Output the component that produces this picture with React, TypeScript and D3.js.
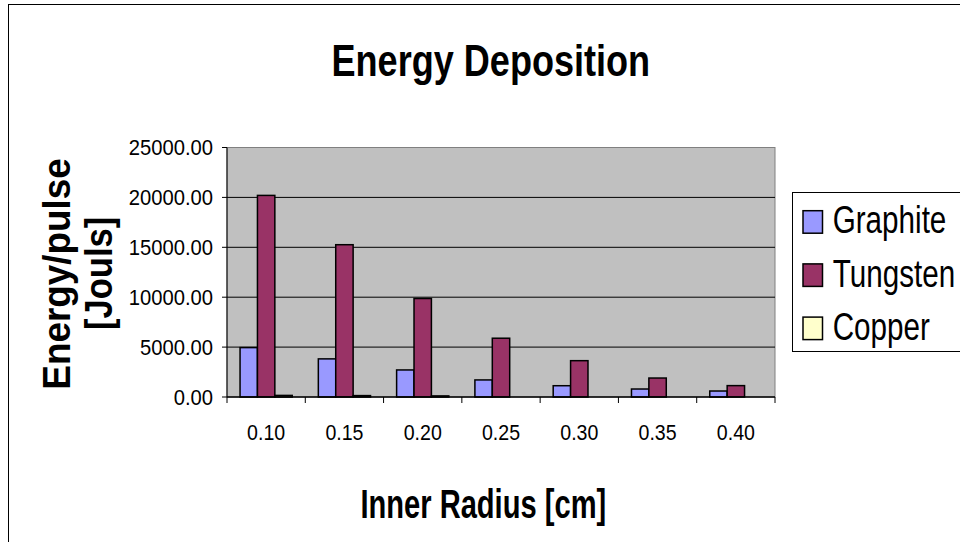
import React from "react";
import * as d3 from "d3";

// Inner radius categories and energy per pulse for each material
const categories = ["0.10", "0.15", "0.20", "0.25", "0.30", "0.35", "0.40"];
const graphite = [4950, 3820, 2710, 1710, 1130, 800, 600];
const tungsten = [20200, 15260, 9870, 5890, 3640, 1900, 1140];
const copper = [160, 140, 110, 0, 0, 0, 0];
const seriesNames = ["Graphite", "Tungsten", "Copper"];
const seriesColors = ["#9999FF", "#993366", "#FFFFCC"];
const yTicks = [0, 5000, 10000, 15000, 20000, 25000];

const FONT = "'Liberation Sans', Arial, Helvetica, sans-serif";

type TextProps = {
  x: number;
  y: number;
  size: number;
  sx?: number;
  rotate?: number;
  anchor?: "start" | "middle" | "end";
  bold?: boolean;
  children: React.ReactNode;
};

// Text with an optional horizontal squeeze along its own direction
function CText({ x, y, size, sx = 1, rotate = 0, anchor = "middle", bold = false, children }: TextProps) {
  return (
    <text
      transform={`translate(${x},${y}) rotate(${rotate}) scale(${sx},1)`}
      textAnchor={anchor}
      fontSize={size}
      fontWeight={bold ? "bold" : "normal"}
      fontFamily={FONT}
      fill="#000"
    >
      {children}
    </text>
  );
}

export default function App() {
  const W = 960;
  const H = 542;
  const plot = { left: 227, right: 775, top: 147.5, bottom: 397 };

  const series = [graphite, tungsten, copper];

  const x = d3
    .scaleBand<string>()
    .domain(categories)
    .range([plot.left, plot.right])
    .paddingInner(0)
    .paddingOuter(0);

  const y = d3.scaleLinear().domain([0, 25000]).range([plot.bottom, plot.top]);

  const band = x.bandwidth();
  const barW = band / 4.5; // gap width 150%
  const groupOffset = (band - 3 * barW) / 2;
  const fmt = d3.format(".2f");

  return (
    <svg
      width={W}
      height={H}
      style={{ position: "absolute", left: 0, top: 0, background: "#fff" }}
    >
      {/* chart frame */}
      <rect x={8.5} y={4.5} width={1000} height={600} fill="#fff" stroke="#000" strokeWidth={1} />

      {/* title */}
      <CText x={490.8} y={76} size={44} sx={0.82} bold>
        Energy Deposition
      </CText>

      {/* plot background */}
      <rect
        x={plot.left}
        y={plot.top}
        width={plot.right - plot.left}
        height={plot.bottom - plot.top}
        fill="#C0C0C0"
        stroke="#808080"
        strokeWidth={1}
      />

      {/* gridlines */}
      {yTicks.slice(1, -1).map((t) => (
        <line
          key={`g${t}`}
          x1={plot.left}
          x2={plot.right}
          y1={y(t)}
          y2={y(t)}
          stroke="#000"
          strokeWidth={1}
        />
      ))}

      {/* bars */}
      {series.map((vals, si) =>
        vals.map((v, ci) => {
          const bx = (x(categories[ci]) ?? 0) + groupOffset + si * barW;
          const by = y(v);
          const bh = plot.bottom - by;
          if (bh <= 0) return null;
          return (
            <rect
              key={`b${si}-${ci}`}
              x={bx}
              y={by}
              width={barW}
              height={bh}
              fill={seriesColors[si]}
              stroke="#000"
              strokeWidth={1.5}
            />
          );
        })
      )}

      {/* y axis */}
      <line x1={plot.left} x2={plot.left} y1={plot.top} y2={plot.bottom} stroke="#000" strokeWidth={1} />
      {yTicks.map((t) => (
        <g key={`yt${t}`}>
          <line x1={plot.left - 5} x2={plot.left} y1={y(t)} y2={y(t)} stroke="#000" strokeWidth={1} />
          <CText x={213} y={y(t) + 7.6} size={21.5} sx={0.94} anchor="end">
            {fmt(t)}
          </CText>
        </g>
      ))}

      {/* x axis */}
      <line x1={plot.left} x2={plot.right} y1={plot.bottom} y2={plot.bottom} stroke="#000" strokeWidth={1.5} />
      {categories.map((c, i) => (
        <line
          key={`xt${c}`}
          x1={plot.left + i * band}
          x2={plot.left + i * band}
          y1={plot.bottom}
          y2={plot.bottom + 6}
          stroke="#000"
          strokeWidth={1}
        />
      ))}
      <line x1={plot.right} x2={plot.right} y1={plot.bottom} y2={plot.bottom + 6} stroke="#000" strokeWidth={1} />
      {categories.map((c) => (
        <CText key={`xl${c}`} x={(x(c) ?? 0) + band / 2} y={440} size={22} sx={0.89}>
          {c}
        </CText>
      ))}

      {/* axis titles */}
      <CText x={483.3} y={518} size={41} sx={0.71} bold>
        Inner Radius [cm]
      </CText>
      <CText x={69.5} y={274} size={38} sx={0.97} rotate={-90} bold>
        Energy/pulse
      </CText>
      <CText x={112} y={273.4} size={38} sx={0.91} rotate={-90} bold>
        [Jouls]
      </CText>

      {/* legend */}
      <rect x={792.5} y={192.5} width={300} height={159} fill="#fff" stroke="#000" strokeWidth={1} />
      {seriesNames.map((name, i) => {
        const top = 210.7 + i * 53.2;
        return (
          <g key={`lg${name}`}>
            <rect x={803} y={top} width={19.5} height={22.5} fill={seriesColors[i]} stroke="#000" strokeWidth={1.5} />
            <CText x={832.7} y={top + 22.6} size={39} sx={0.76} anchor="start">
              {name}
            </CText>
          </g>
        );
      })}
    </svg>
  );
}
